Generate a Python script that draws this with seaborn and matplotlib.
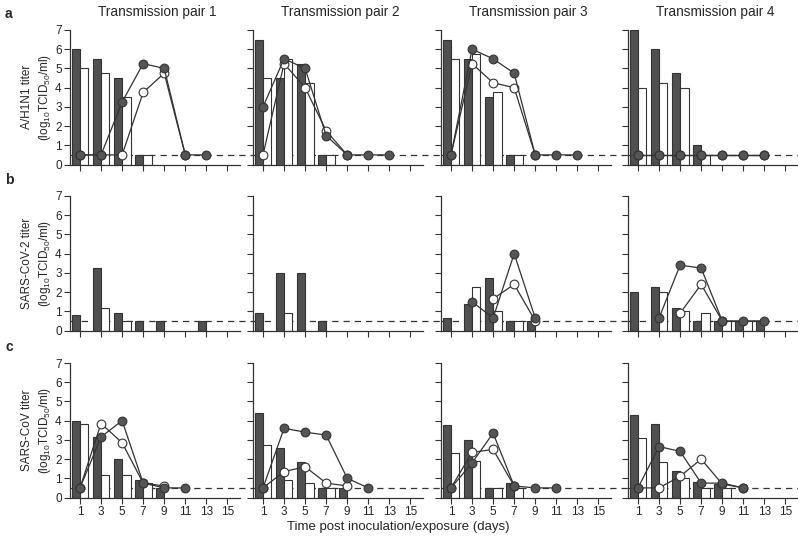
import matplotlib
matplotlib.use("Agg")
import pandas as pd
import seaborn as sns
import matplotlib.pyplot as plt

# days on the x axis
bar_days = [1, 3, 5, 7, 9, 11, 13]
tick_days = [1, 3, 5, 7, 9, 11, 13, 15]

row_names = ["A/H1N1", "SARS-CoV-2", "SARS-CoV"]
pair_titles = ["Transmission pair 1", "Transmission pair 2",
               "Transmission pair 3", "Transmission pair 4"]

# bar values from day 1 onwards, None = no bar
# filled bars (donor) and open bars (recipient), one list per transmission pair
h1n1_donor_bars = [[6.0, 5.5, 4.5, 0.5], [6.5, 4.5, 5.25, 0.5],
                   [6.5, 5.5, 3.5, 0.5], [7.0, 6.0, 4.75, 1.0]]
h1n1_recip_bars = [[5.0, 4.75, 3.5, 0.5], [4.5, 5.5, 4.25, 0.5],
                   [5.5, 5.75, 3.75, 0.5], [4.0, 4.25, 4.0, 0.5]]
cov2_donor_bars = [[0.8, 3.25, 0.9, 0.5, 0.5, None, 0.5], [0.9, 3.0, 3.0, 0.5],
                   [0.65, 1.4, 2.75, 0.5, 0.5], [2.0, 2.25, 1.15, 0.5, 0.5, 0.5, 0.5]]
cov2_recip_bars = [[None, 1.15, 0.5], [None, 0.9],
                   [None, 2.25, 1.0, 0.5], [None, 2.0, 1.0, 0.9, 0.5, 0.5]]
cov_donor_bars = [[4.0, 3.15, 2.0, 0.9, 0.5], [4.4, 2.6, 1.85, 0.5, 0.5],
                  [3.75, 3.0, 0.5, 0.75], [4.3, 3.85, 1.4, 0.8, 0.7]]
cov_recip_bars = [[3.85, 1.15, 1.15, 0.75], [2.75, 0.9, 0.75, 0.5],
                  [2.3, 1.9, 0.5, 0.5], [3.1, 1.85, 1.0, 0.5, 0.5]]

# circle series: (first day, values every 2 days), None = no series
h1n1_donor_pts = [(1, [0.5, 0.5, 3.25, 5.25, 5.0, 0.5, 0.5]),
                  (1, [3.0, 5.5, 5.0, 1.5, 0.5, 0.5, 0.5]),
                  (1, [0.5, 6.0, 5.5, 4.75, 0.5, 0.5, 0.5]),
                  (1, [0.5, 0.5, 0.5, 0.5, 0.5, 0.5, 0.5])]
h1n1_recip_pts = [(1, [0.5, 0.5, 0.5, 3.75, 4.75, 0.5]),
                  (1, [0.5, 5.25, 4.0, 1.75, 0.5]),
                  (1, [0.5, 5.25, 4.25, 4.0, 0.5]),
                  (1, [0.5, 0.5, 0.5, 0.5, 0.5, 0.5, 0.5])]
cov2_donor_pts = [None, None,
                  (3, [1.5, 0.65, 4.0, 0.65]),
                  (3, [0.65, 3.4, 3.25, 0.5, 0.5, 0.5])]
cov2_recip_pts = [None, None,
                  (5, [1.65, 2.4, 0.5]),
                  (5, [0.9, 2.4, 0.5])]
cov_donor_pts = [(1, [0.5, 3.15, 4.0, 0.75, 0.5, 0.5]),
                 (1, [0.5, 3.6, 3.4, 3.25, 1.0, 0.5]),
                 (1, [0.5, 1.8, 3.35, 0.6, 0.5, 0.5]),
                 (1, [0.5, 2.65, 2.4, 0.75, 0.75, 0.5])]
cov_recip_pts = [(1, [0.5, 3.85, 2.85, 0.75, 0.6]),
                 (1, [0.5, 1.35, 1.6, 0.75, 0.6]),
                 (1, [0.5, 2.35, 2.5, 0.6]),
                 (1, [0.5, 0.5, 1.1, 2.0, 0.7, 0.5])]

donor_bars = [h1n1_donor_bars, cov2_donor_bars, cov_donor_bars]
recip_bars = [h1n1_recip_bars, cov2_recip_bars, cov_recip_bars]
donor_pts = [h1n1_donor_pts, cov2_donor_pts, cov_donor_pts]
recip_pts = [h1n1_recip_pts, cov2_recip_pts, cov_recip_pts]

detection_limit = 0.5

DARK = "#505050"
EDGE = "#333333"


def bars_frame(donor, recip):
    rows = []
    for group, vals in (("donor", donor), ("recipient", recip)):
        for day, v in zip(bar_days, vals):
            if v is not None:
                rows.append({"day": day, "titer": v, "group": group})
    return pd.DataFrame(rows)


def draw_points(ax, series, face, z):
    if series is None:
        return
    start, vals = series
    xs = [start + 2 * i for i in range(len(vals))]
    sns.lineplot(x=xs, y=vals, ax=ax, color=EDGE, linewidth=0.9,
                 marker="o", markersize=6.3, markerfacecolor=face,
                 markeredgecolor=EDGE, markeredgewidth=0.8,
                 estimator=None, zorder=z)


sns.set_style("ticks")
plt.rcParams["font.family"] = ["Liberation Sans", "DejaVu Sans"]
plt.rcParams["mathtext.fontset"] = "custom"
plt.rcParams["mathtext.rm"] = "Liberation Sans"

W, H = 798, 541
fig = plt.figure(figsize=(W / 100, H / 100), dpi=100)

lefts = [70, 253, 441, 628]
tops = [30, 196, 363]
pw, ph = 170, 134.5

for r in range(3):
    for c in range(4):
        ax = fig.add_axes([lefts[c] / W, 1 - (tops[r] + ph) / H, pw / W, ph / H])
        ax.patch.set_alpha(0)
        df = bars_frame(donor_bars[r][c], recip_bars[r][c])
        sns.barplot(data=df, x="day", y="titer", hue="group",
                    hue_order=["donor", "recipient"],
                    palette={"donor": DARK, "recipient": "white"},
                    native_scale=True, width=0.8, errorbar=None,
                    edgecolor=EDGE, linewidth=0.8, legend=False, ax=ax,
                    zorder=2)
        draw_points(ax, recip_pts[r][c], "white", 3)
        draw_points(ax, donor_pts[r][c], "#555555", 4)

        # dashed detection limit runs on across the gap to the next panel
        xmax = (lefts[c + 1] - lefts[c]) / pw if c < 3 else 1.0
        ax.axhline(detection_limit, xmin=0, xmax=xmax, color=EDGE,
                   linestyle=(0, (5, 4)), linewidth=0.9, clip_on=False, zorder=1)

        ax.set_xlim(0.05, 16.2)
        ax.set_ylim(0, 7)
        ax.set_xticks(tick_days)
        ax.set_yticks(range(8))
        ax.set_xlabel("")
        ax.set_ylabel("")
        sns.despine(ax=ax)
        for s in ("left", "bottom"):
            ax.spines[s].set_color(EDGE)
            ax.spines[s].set_linewidth(0.9)
        ax.tick_params(direction="out", length=4, width=0.8, color=EDGE,
                       labelsize=8.5, pad=2,
                       labelleft=(c == 0), labelbottom=(r == 2))

        if r == 0:
            fig.text((lefts[c] + pw / 2 + 2) / W, 1 - 12 / H, pair_titles[c],
                     ha="center", va="center", fontsize=9.8)

    mid = 1 - (tops[r] + ph / 2) / H
    fig.text(37 / W, mid, row_names[r] + " titer\n(log$_{10}$TCID$_{50}$/ml)",
             rotation=90, ha="center", va="center", fontsize=8.5,
             multialignment="center", linespacing=1.3)
    fig.text(5 / W, 1 - (tops[r] - 16) / H, "abc"[r], fontsize=10,
             fontweight="bold", ha="left", va="center")

fig.text(398 / W, 1 - 527 / H, "Time post inoculation/exposure (days)",
         ha="center", va="center", fontsize=9.5)

fig.savefig("out.png", dpi=100)
